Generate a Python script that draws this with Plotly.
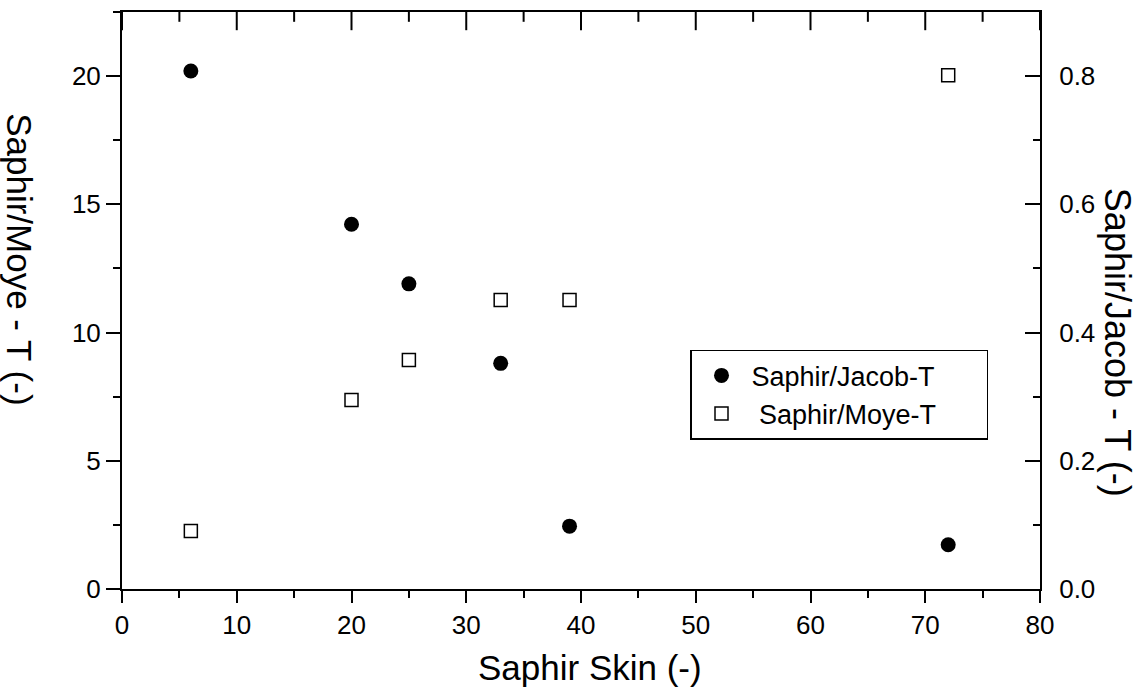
import plotly.graph_objects as go

# Data
skin_jacob = [6, 20, 25, 33, 39, 72]
jacob_t = [0.808, 0.569, 0.476, 0.352, 0.098, 0.069]

skin_moye = [6, 20, 25, 33, 39, 72]
moye_t = [2.26, 7.37, 8.93, 11.27, 11.27, 20.03]

x_ticks = [0, 10, 20, 30, 40, 50, 60, 70, 80]
y_left_ticks = [0, 5, 10, 15, 20]
y_right_ticks = [0.0, 0.2, 0.4, 0.6, 0.8]

x_range = [0, 80]
y_left_range = [0, 22.5]
y_right_range = [0, 0.9]

FONT = "Liberation Sans, Arial, sans-serif"
W, H = 1137, 695
L, R, T, B = 122, 97, 10, 106
PW, PH = W - L - R, H - T - B
NB = "\u00a0"

# minor tick positions halfway between the major x ticks
x_minor = [(a + b) / 2 for a, b in zip(x_ticks[:-1], x_ticks[1:])]

fig = go.Figure()
fig.add_trace(go.Scatter(
    x=skin_jacob, y=jacob_t, mode="markers", name="Saphir/Jacob-T" + NB * 6,
    xaxis="x", yaxis="y2",
    marker=dict(symbol="circle", size=15, color="black",
                line=dict(color="black", width=0)),
))
fig.add_trace(go.Scatter(
    x=skin_moye, y=moye_t, mode="markers", name=NB + "Saphir/Moye-T" + NB * 6,
    xaxis="x", yaxis="y",
    marker=dict(symbol="square-open", size=13, color="black",
                line=dict(color="black", width=1.5)),
))
# inward-pointing ticks on the top frame edge (half of each symbol is clipped by the plot area)
fig.add_trace(go.Scatter(
    x=x_ticks, y=[y_left_range[1]] * len(x_ticks), mode="markers",
    xaxis="x", yaxis="y", showlegend=False, hoverinfo="skip", cliponaxis=True,
    marker=dict(symbol="line-ns", size=26, color="black",
                line=dict(color="black", width=2)),
))
fig.add_trace(go.Scatter(
    x=x_minor, y=[y_left_range[1]] * len(x_minor), mode="markers",
    xaxis="x", yaxis="y", showlegend=False, hoverinfo="skip", cliponaxis=True,
    marker=dict(symbol="line-ns", size=14, color="black",
                line=dict(color="black", width=2)),
))

base = dict(showgrid=False, zeroline=False, showline=True,
            linecolor="black", linewidth=2, tickcolor="black", tickwidth=2)
label_font = dict(family=FONT, size=26, color="black")

fig.update_layout(
    width=W, height=H,
    margin=dict(l=L, r=R, t=T, b=B),
    paper_bgcolor="white", plot_bgcolor="white",
    font=dict(family=FONT, color="black"),
    showlegend=True,
    xaxis=dict(range=x_range, side="bottom", anchor="y", tickvals=x_ticks,
               ticks="outside", ticklen=12, tickfont=label_font, mirror=True,
               minor=dict(dtick=5, ticks="outside", ticklen=7, tickwidth=2, tickcolor="black"),
               **base),
    yaxis=dict(range=y_left_range, anchor="x", tickvals=y_left_ticks, ticks="outside",
               ticklen=14, tickfont=label_font,
               minor=dict(dtick=2.5, ticks="outside", ticklen=7, tickwidth=2, tickcolor="black"),
               **base),
    yaxis2=dict(range=y_right_range, overlaying="y", side="right", anchor="x",
                tickvals=y_right_ticks, tickfont=label_font,
                tickformat=".1f", ticks="inside", ticklen=15, ticklabelstandoff=12,
                minor=dict(dtick=0.1, ticks="inside", ticklen=7, tickwidth=2, tickcolor="black"),
                **base),
    legend=dict(x=(690 - L) / PW, y=(H - B - 349) / PH, xanchor="left", yanchor="top",
                bgcolor="white", bordercolor="black", borderwidth=1.5,
                font=dict(family=FONT, size=27, color="black"),
                itemwidth=50),
    annotations=[
        dict(text="Saphir Skin (-)", xref="paper", yref="paper",
             x=(590 - L) / PW, y=(H - B - 668) / PH, xanchor="center", yanchor="middle",
             showarrow=False, font=dict(family=FONT, size=35, color="black")),
        dict(text="Saphir/Moye - T (-)", xref="paper", yref="paper",
             x=(20 - L) / PW, y=(H - B - 258) / PH, xanchor="center", yanchor="middle",
             textangle=90, showarrow=False, font=dict(family=FONT, size=35, color="black")),
        dict(text="Saphir/Jacob - T (-)", xref="paper", yref="paper",
             x=(1117 - L) / PW, y=(H - B - 341) / PH, xanchor="center", yanchor="middle",
             textangle=90, showarrow=False, font=dict(family=FONT, size=36, color="black")),
    ],
)

fig.write_html("out.html")
